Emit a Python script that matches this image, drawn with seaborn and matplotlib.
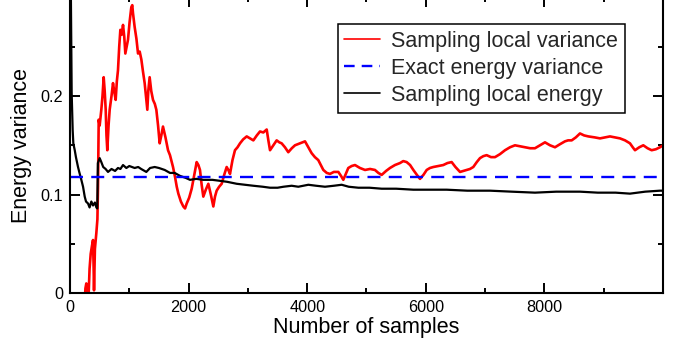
import matplotlib
matplotlib.use("Agg")
import matplotlib.pyplot as plt
import seaborn as sns
import numpy as np
import pandas as pd
from matplotlib.lines import Line2D
from matplotlib.ticker import MultipleLocator, FixedLocator, FuncFormatter

# ---------------- data ----------------
black_n = [0, 15, 28, 45, 56, 80, 100, 135, 160, 191, 220, 248, 270, 304, 330, 360, 388, 420, 445, 460,
           470, 500, 528, 560, 600, 641, 700, 760, 809, 850, 894, 950, 1000, 1090, 1150, 1200, 1287,
           1350, 1428, 1500, 1597, 1686, 1765, 1855, 1950, 2024, 2130, 2248, 2400, 2530, 2650, 2811,
           2950, 3092, 3250, 3373, 3500, 3600, 3738, 3850, 4019, 4150, 4300, 4450, 4581, 4700, 4862,
           5050, 5256, 5500, 5790, 6050, 6352, 6700, 7083, 7450, 7841, 8200, 8600, 8900, 9200, 9443,
           9700, 9949, 10000]
black_v = [0.40, 0.30, 0.203, 0.165, 0.152, 0.145, 0.138, 0.128, 0.122, 0.115, 0.108, 0.098, 0.093,
           0.091, 0.087, 0.093, 0.089, 0.092, 0.087, 0.086, 0.132, 0.137, 0.133, 0.128, 0.126, 0.123,
           0.126, 0.124, 0.127, 0.126, 0.130, 0.127, 0.129, 0.127, 0.128, 0.126, 0.123, 0.127, 0.128,
           0.127, 0.125, 0.122, 0.122, 0.119, 0.117, 0.115, 0.116, 0.115, 0.115, 0.114, 0.113, 0.111,
           0.110, 0.109, 0.108, 0.107, 0.107, 0.108, 0.109, 0.108, 0.110, 0.109, 0.108, 0.109, 0.110,
           0.108, 0.107, 0.107, 0.106, 0.106, 0.105, 0.105, 0.105, 0.104, 0.104, 0.103, 0.102, 0.103,
           0.103, 0.102, 0.102, 0.101, 0.103, 0.104, 0.104]

red_n = [240, 260, 275, 290, 315, 330, 349, 370, 388, 397, 405, 420, 444, 462, 472, 484, 500, 528, 548,
         568, 585, 602, 615, 629, 650, 669, 700, 725, 745, 770, 790, 809, 830, 849, 870, 894, 915, 933,
         955, 978, 1005, 1034, 1050, 1062, 1090, 1120, 1147, 1175, 1203, 1230, 1259, 1280, 1304, 1320,
         1343, 1370, 1400, 1430, 1456, 1485, 1512, 1540, 1568, 1610, 1653, 1686, 1737, 1771, 1800, 1827,
         1870, 1911, 1940, 1968, 2010, 2052, 2095, 2136, 2165, 2192, 2220, 2248, 2290, 2333, 2375, 2417,
         2445, 2473, 2515, 2558, 2600, 2642, 2670, 2698, 2740, 2782, 2825, 2867, 2920, 2980, 3035, 3092,
         3150, 3204, 3260, 3317, 3345, 3373, 3430, 3485, 3530, 3569, 3625, 3681, 3740, 3794, 3880, 3963,
         4020, 4075, 4130, 4187, 4230, 4272, 4330, 4384, 4450, 4525, 4570, 4609, 4650, 4693, 4750, 4806,
         4890, 4975, 5060, 5143, 5200, 5256, 5330, 5396, 5480, 5565, 5620, 5677, 5735, 5790, 5850, 5902,
         5960, 6015, 6070, 6127, 6210, 6295, 6365, 6436, 6500, 6577, 6630, 6689, 6745, 6801, 6860, 6914,
         6970, 7026, 7100, 7167, 7250, 7336, 7420, 7504, 7590, 7673, 7760, 7841, 7925, 8010, 8095, 8179,
         8260, 8347, 8400, 8460, 8530, 8600, 8670, 8741, 8850, 8938, 9020, 9106, 9190, 9275, 9360, 9443,
         9490, 9528, 9600, 9668, 9740, 9809, 9880, 9949, 10000]
red_v = [-0.02, 0.005, 0.010, -0.005, 0.000, 0.025, 0.040, 0.048, 0.054, 0.030, 0.003, 0.045, 0.061,
         0.075, 0.108, 0.176, 0.170, 0.186, 0.200, 0.219, 0.205, 0.186, 0.160, 0.145, 0.170, 0.186,
         0.200, 0.213, 0.205, 0.196, 0.215, 0.226, 0.250, 0.267, 0.262, 0.272, 0.260, 0.243, 0.250,
         0.257, 0.275, 0.290, 0.292, 0.284, 0.270, 0.258, 0.243, 0.245, 0.237, 0.225, 0.213, 0.200,
         0.186, 0.205, 0.219, 0.205, 0.196, 0.192, 0.186, 0.170, 0.152, 0.160, 0.169, 0.158, 0.145,
         0.140, 0.128, 0.118, 0.108, 0.101, 0.093, 0.088, 0.086, 0.091, 0.097, 0.106, 0.120, 0.133,
         0.130, 0.125, 0.110, 0.098, 0.105, 0.111, 0.100, 0.088, 0.098, 0.104, 0.108, 0.111, 0.120,
         0.128, 0.125, 0.121, 0.135, 0.145, 0.148, 0.152, 0.156, 0.159, 0.157, 0.155, 0.160, 0.164,
         0.163, 0.166, 0.155, 0.145, 0.150, 0.155, 0.153, 0.152, 0.148, 0.143, 0.147, 0.150, 0.152,
         0.154, 0.148, 0.142, 0.138, 0.135, 0.130, 0.125, 0.122, 0.121, 0.123, 0.123, 0.119, 0.115,
         0.121, 0.127, 0.129, 0.130, 0.127, 0.125, 0.126, 0.125, 0.122, 0.120, 0.124, 0.127, 0.130,
         0.132, 0.134, 0.133, 0.130, 0.125, 0.120, 0.116, 0.120, 0.125, 0.127, 0.128, 0.129, 0.130,
         0.132, 0.133, 0.128, 0.123, 0.124, 0.125, 0.126, 0.128, 0.133, 0.137, 0.139, 0.140, 0.138,
         0.138, 0.141, 0.145, 0.148, 0.150, 0.149, 0.148, 0.147, 0.147, 0.150, 0.153, 0.150, 0.148,
         0.151, 0.154, 0.155, 0.155, 0.158, 0.162, 0.160, 0.159, 0.158, 0.157, 0.158, 0.159, 0.158,
         0.157, 0.155, 0.152, 0.148, 0.145, 0.148, 0.150, 0.147, 0.145, 0.146, 0.148, 0.150]

exact_variance = 0.118

series_labels = ["Sampling local variance", "Exact energy variance", "Sampling local energy"]
x_ticks = [0, 2000, 4000, 6000, 8000]
y_ticks = [0.0, 0.1, 0.2]
x_label = "Number of samples"
y_label = "Energy variance"

# ---------------- plot ----------------
sns.set_theme(style="ticks", rc={
    "xtick.direction": "in", "ytick.direction": "in",
    "xtick.top": True, "xtick.bottom": True,
    "ytick.left": True, "ytick.right": True,
    "xtick.major.size": 7.5, "ytick.major.size": 7.5,
    "xtick.minor.size": 3.8, "ytick.minor.size": 3.8,
    "xtick.major.width": 1.4, "ytick.major.width": 1.4,
    "xtick.minor.width": 1.4, "ytick.minor.width": 1.4,
    "xtick.color": "black", "ytick.color": "black",
    "axes.edgecolor": "black", "axes.linewidth": 1.5,
})
plt.rcParams["font.family"] = ["Liberation Sans", "DejaVu Sans"]

fig = plt.figure(figsize=(6.83, 3.43), dpi=100)
ax = fig.add_axes([0.1025, 0.1449, 0.8682, 0.863])

red_df = pd.DataFrame({"n": red_n, "v": red_v})
black_df = pd.DataFrame({"n": black_n, "v": black_v})

sns.lineplot(data=red_df, x="n", y="v", ax=ax, color="#ff0000", linewidth=1.9, estimator=None, sort=False)
sns.lineplot(data=black_df, x="n", y="v", ax=ax, color="black", linewidth=1.6, estimator=None, sort=False)
ax.axhline(exact_variance, color="#0000ff", linewidth=1.7, dashes=(5.5, 3.5))

ax.set_xlim(0, 10000)
ax.set_ylim(0, 0.3)
ax.xaxis.set_major_locator(FixedLocator(x_ticks))
ax.xaxis.set_minor_locator(MultipleLocator(1000))
ax.yaxis.set_major_locator(FixedLocator(y_ticks))
ax.yaxis.set_minor_locator(MultipleLocator(0.05))
ax.yaxis.set_major_formatter(FuncFormatter(lambda v, p: "0" if abs(v) < 1e-9 else f"{v:.1f}"))

ax.tick_params(which="both", direction="in", top=True, right=True, bottom=True, left=True)
ax.tick_params(which="major", labelsize=11.7, labelcolor="black", pad=5)

ax.set_xlabel(x_label, fontsize=15.5, labelpad=1, color="black")
ax.set_ylabel(y_label, fontsize=15.5, labelpad=6, color="black")

handles = [Line2D([], [], color="#ff0000", linewidth=1.2),
           Line2D([], [], color="#0000ff", linewidth=1.7, dashes=(4.5, 3.0)),
           Line2D([], [], color="black", linewidth=1.2)]
leg = ax.legend(handles, series_labels, loc="upper right", bbox_to_anchor=(0.915, 0.930),
                bbox_transform=fig.transFigure, borderaxespad=0, fontsize=15.5, frameon=True,
                fancybox=False, shadow=False, handlelength=1.67, handletextpad=0.5,
                labelspacing=0.28, borderpad=0.32)
leg.get_frame().set_edgecolor("black")
leg.get_frame().set_linewidth(1.1)
leg.get_frame().set_alpha(1)

fig.savefig("out.png", dpi=100)
